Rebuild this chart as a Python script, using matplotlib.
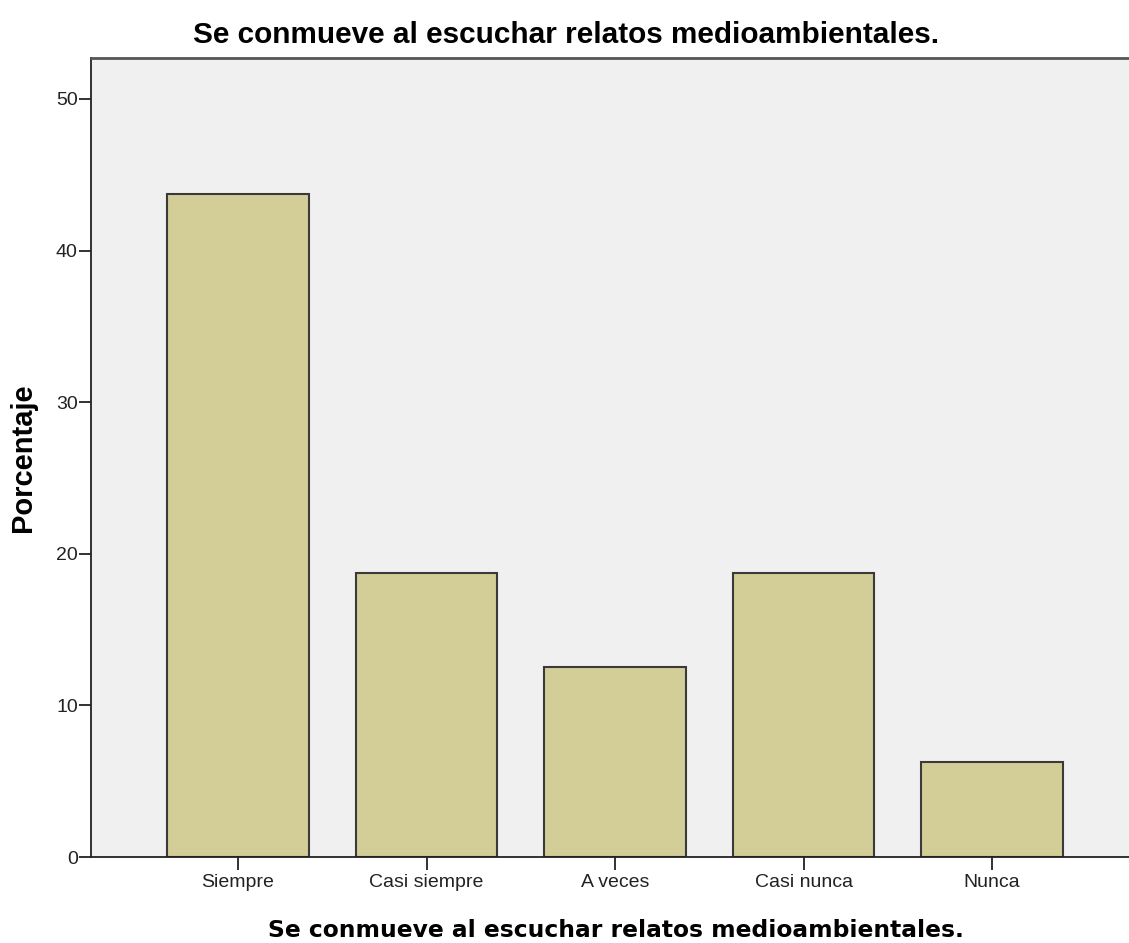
import matplotlib.pyplot as plt

# Datos del gráfico
categorias = ['Siempre', 'Casi siempre', 'A veces', 'Casi nunca', 'Nunca']
porcentajes = [43.75, 18.75, 12.5, 18.75, 6.25]
yticks = [0, 10, 20, 30, 40, 50]

titulo = 'Se conmueve al escuchar relatos medioambientales.'

plt.rcParams['font.family'] = ['Liberation Sans', 'DejaVu Sans']

fig = plt.figure(figsize=(11.29, 9.43), dpi=100)
# el eje sigue un poco más allá del borde derecho
ax = fig.add_axes([91 / 1129, 86 / 943, (1141 - 91) / 1129, (857 - 58) / 943])
ax.set_facecolor('#f0f0f0')

x = range(len(categorias))
ax.bar(x, porcentajes, width=0.75, color='#d3ce97', edgecolor='#3a3a3a', linewidth=1.5)

ax.set_xlim(-0.78, 4.79)
ax.set_ylim(0, 52.7)
ax.set_yticks(yticks)
ax.set_xticks(list(x))
ax.set_xticklabels(categorias)

ax.tick_params(axis='y', direction='out', length=8.5, width=1.3, labelsize=14, colors='#222222', pad=1)
ax.tick_params(axis='x', direction='out', length=9, width=1.3, labelsize=14, colors='#222222', pad=3)

ax.spines['right'].set_visible(False)
for s in ['left', 'bottom']:
    ax.spines[s].set_linewidth(1.3)
    ax.spines[s].set_color('#222222')
ax.spines['top'].set_color('#555555')
ax.spines['top'].set_linewidth(2)

ax.set_ylabel('Porcentaje', fontsize=21, fontweight='bold')
ax.yaxis.set_label_coords(-0.051, 0.5)
ax.set_xlabel(titulo, fontsize=16.85, fontweight='bold', family='DejaVu Sans')
ax.xaxis.set_label_coords(0.5, -0.077)
fig.text(566 / 1129, 1 - 35 / 943, titulo, ha='center', va='center', fontsize=21.4, fontweight='bold')

fig.savefig('out.png', dpi=100, facecolor='white')
